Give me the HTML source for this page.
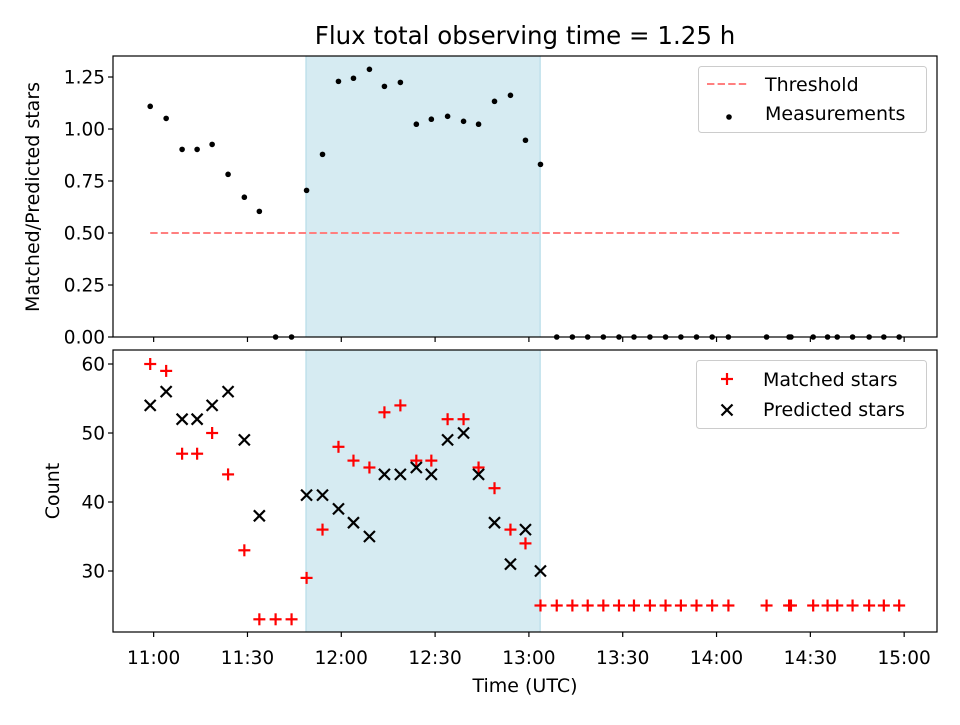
<!DOCTYPE html>
<html><head><meta charset="utf-8"><style>
body{margin:0;background:#fff;}
svg text{font-family:"DejaVu Sans","Liberation Sans",sans-serif;fill:#000;}
</style></head><body>
<svg id="chart" width="960" height="720" xmlns="http://www.w3.org/2000/svg"></svg>
<script>
// minutes after 11:00 UTC
const timesMain = [-1.1,4.0,9.1,13.9,18.7,23.8,29.0,33.8,39.0,44.1,48.9,54.0,59.1,63.9,69.0,73.8,78.9,84.0,88.8,94.0,99.1,103.9,109.0,114.1,118.9,123.7];
const timesLate = [128.9,133.9,138.8,143.8,148.8,153.6,158.7,163.7,168.6,173.6,178.6,183.8,196.0,203.2,203.8,210.9,215.5,218.6,223.5,228.8,233.5,238.4];
const ratioMain = [1.109,1.051,0.902,0.902,0.926,0.782,0.672,0.604,0,0,0.705,0.878,1.229,1.244,1.287,1.205,1.224,1.023,1.047,1.061,1.037,1.023,1.133,1.162,0.946,0.830];
const matchedMain = [60,59,47,47,50,44,33,23,23,23,29,36,48,46,45,53,54,46,46,52,52,45,42,36,34,25];
const predictedMain = [54,56,52,52,54,56,49,38,null,null,41,41,39,37,35,44,44,45,44,49,50,44,37,31,36,30];
const matchedLate = 25;
const threshold = 0.5;
const spanStart = 48.7, spanEnd = 123.6;
const xTickMins = [0,30,60,90,120,150,180,210,240];
const xTickLabels = ["11:00","11:30","12:00","12:30","13:00","13:30","14:00","14:30","15:00"];
const topTicks = [0,0.25,0.5,0.75,1.0,1.25];
const topTickLabels = ["0.00","0.25","0.50","0.75","1.00","1.25"];
const botTicks = [30,40,50,60];

const NS="http://www.w3.org/2000/svg";
const svg=document.getElementById('chart');
function el(tag,attrs,parent){const e=document.createElementNS(NS,tag);for(const k in attrs)e.setAttribute(k,attrs[k]);(parent||svg).appendChild(e);return e;}
const L=113,R=937;
const xMin=-13.0,xMax=250.5;
function X(m){return L+(m-xMin)/(xMax-xMin)*(R-L);}
const T={top:56,bot:337,min:0,max:1.351};
const B={top:350,bot:632,min:21.16,max:62.03};
function YT(v){return T.bot-(v-T.min)/(T.max-T.min)*(T.bot-T.top);}
function YB(v){return B.bot-(v-B.min)/(B.max-B.min)*(B.bot-B.top);}
const FS=18.5;

function panel(P,name){
  const s=el('rect',{x:X(spanStart),y:P.top,width:X(spanEnd)-X(spanStart),height:P.bot-P.top,fill:'#add8e6','fill-opacity':0.5,stroke:'#add8e6','stroke-width':1});
  
  
}
panel(T,'top');panel(B,'bottom');

const th=el('line',{x1:X(timesMain[0]),x2:X(timesLate[timesLate.length-1]),y1:YT(threshold),y2:YT(threshold),stroke:'#ff7f7f','stroke-width':2,'stroke-dasharray':'7.4,3.2'});



const allTimes=timesMain.concat(timesLate);
const allRatio=ratioMain.concat(timesLate.map(()=>0));
allTimes.forEach((t,i)=>{
  const c=el('circle',{cx:X(t),cy:YT(allRatio[i]),r:2.8,fill:'#000'});
  
  
});

function plus(x,y,parent){const g=el('g',{stroke:'#f00','stroke-width':2.2},parent);el('line',{x1:x-6,x2:x+6,y1:y,y2:y},g);el('line',{x1:x,x2:x,y1:y-6,y2:y+6},g);return g;}
function cross(x,y,parent){const g=el('g',{stroke:'#000','stroke-width':2.2},parent);el('line',{x1:x-5.5,x2:x+5.5,y1:y-5.5,y2:y+5.5},g);el('line',{x1:x-5.5,x2:x+5.5,y1:y+5.5,y2:y-5.5},g);return g;}

timesMain.forEach((t,i)=>{
  const p=plus(X(t),YB(matchedMain[i]));
  
  
});
timesLate.forEach(t=>{
  const p=plus(X(t),YB(matchedLate));
  
  
});
timesMain.forEach((t,i)=>{
  if(predictedMain[i]===null)return;
  const c=cross(X(t),YB(predictedMain[i]));
  
  
});

function frame(P,name,ticks,labels,Y){
  const f=el('rect',{x:L,y:P.top,width:R-L,height:P.bot-P.top,fill:'none',stroke:'#000','stroke-width':1.2});
  
  
  ticks.forEach((v,i)=>{
    const y=Y(v);
    el('line',{x1:L-5,x2:L,y1:y,y2:y,stroke:'#000','stroke-width':1.2});
    const t=el('text',{x:L-8,y:y+6.5,'text-anchor':'end','font-size':FS});
    t.textContent=labels[i];
    
    
  });
  xTickMins.forEach(m=>{el('line',{x1:X(m),x2:X(m),y1:P.bot,y2:P.bot+5,stroke:'#000','stroke-width':1.2});});
}
frame(T,'top',topTicks,topTickLabels,YT);
frame(B,'bottom',botTicks,botTicks.map(String),YB);
xTickMins.forEach((m,i)=>{
  const t=el('text',{x:X(m),y:664,'text-anchor':'middle','font-size':FS});
  t.textContent=xTickLabels[i];
  
  
});
</script>
<svg width="960" height="720" style="position:absolute;left:0;top:0" xmlns="http://www.w3.org/2000/svg">
<text x="525" y="44" text-anchor="middle" font-size="24.5">Flux total observing time = 1.25 h</text>
<text x="525" y="692" text-anchor="middle" font-size="19">Time (UTC)</text>
<text transform="translate(39,197) rotate(-90)" text-anchor="middle" font-size="19">Matched/Predicted stars</text>
<text transform="translate(59,491) rotate(-90)" text-anchor="middle" font-size="19">Count</text>
<g>
<rect x="698.5" y="56.5" width="228" height="76" rx="3" fill="none" stroke="none"/>
<rect x="698.5" y="66.5" width="228" height="66" rx="3" fill="#fff" fill-opacity="0.8" stroke="#ccc"/>
<line x1="707" x2="747" y1="84" y2="84" stroke="#ff7f7f" stroke-width="2" stroke-dasharray="7.4,3.2"/>
<text x="765" y="91" font-size="19">Threshold</text>
<circle cx="729" cy="117" r="2.8" fill="#000"/>
<text x="765" y="120" font-size="19">Measurements</text>
</g>
<g>
<rect x="696.5" y="360.5" width="230" height="68" rx="3" fill="#fff" fill-opacity="0.8" stroke="#ccc"/>
<g stroke="#f00" stroke-width="2.2"><line x1="721" x2="733" y1="379" y2="379"/><line x1="727" x2="727" y1="373" y2="385"/></g>
<text x="763" y="386" font-size="19">Matched stars</text>
<g stroke="#000" stroke-width="2.2"><line x1="721.5" x2="732.5" y1="404.5" y2="415.5"/><line x1="721.5" x2="732.5" y1="415.5" y2="404.5"/></g>
<text x="763" y="416" font-size="19">Predicted stars</text>
</g>
</svg>
</body></html>
